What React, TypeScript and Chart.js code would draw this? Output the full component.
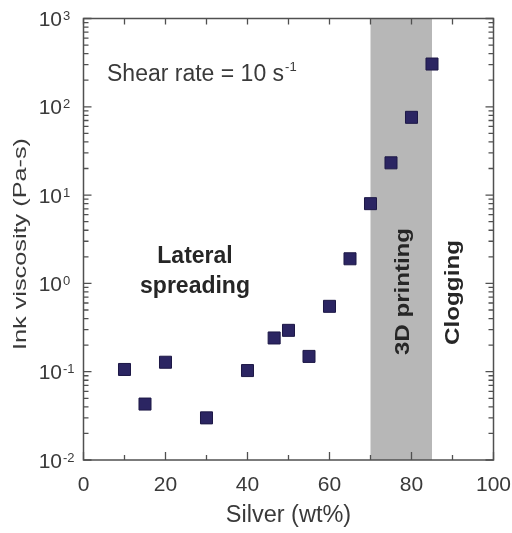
import React, { useEffect, useRef } from "react";
import { Chart, registerables } from "chart.js";

Chart.register(...registerables);

// ---- data ----
const silverWt = [10, 15, 20, 30, 40, 46.5, 50, 55, 60, 65, 70, 75, 80, 85];
const viscosity = [0.106, 0.043, 0.128, 0.03, 0.103, 0.241, 0.294, 0.149, 0.55, 1.9, 8.0, 23.2, 76, 305];

const xMajorTicks = [0, 20, 40, 60, 80, 100];
const xMinorTicks = [10, 30, 50, 70, 90];
const xTickLabels = ["0", "20", "40", "60", "80", "100"];

const yDecadeTicks = [0.01, 0.1, 1, 10, 100, 1000];
const yDecadeExponents = ["-2", "-1", "0", "1", "2", "3"];
const yMinorMultipliers = [2, 3, 4, 5, 6, 7, 8, 9];

const printingBand = [70, 85];

const xTitle = "Silver (wt%)";
const yTitle = "Ink viscosity (Pa-s)";
const shearText = "Shear rate = 10 s";
const shearExp = "-1";
const lateralLines = ["Lateral", "spreading"];
const printingLabel = "3D printing";
const cloggingLabel = "Clogging";

const FONT = 'Arial, "Liberation Sans", sans-serif';
const AXIS_COLOR = "#505050";
const TEXT_COLOR = "#3a3a3a";
const BOLD_COLOR = "#262626";

function drawVertical(
  ctx: CanvasRenderingContext2D,
  text: string,
  baselineX: number,
  centerY: number,
  length: number,
  font: string,
  color: string
) {
  ctx.save();
  ctx.font = font;
  const w = ctx.measureText(text).width;
  ctx.translate(baselineX, centerY);
  ctx.rotate(-Math.PI / 2);
  ctx.scale(length / w, 1);
  ctx.textAlign = "center";
  ctx.textBaseline = "alphabetic";
  ctx.fillStyle = color;
  ctx.fillText(text, 0, 0);
  ctx.restore();
}

const decorPlugin = {
  id: "decor",
  beforeDatasetsDraw(chart: any) {
    const { ctx, chartArea, scales } = chart;
    const x = scales.x;
    const x0 = x.getPixelForValue(printingBand[0]);
    const x1 = x.getPixelForValue(printingBand[1]);
    ctx.save();
    ctx.fillStyle = "#b7b7b7";
    ctx.fillRect(x0, chartArea.top, x1 - x0, chartArea.bottom - chartArea.top);
    ctx.restore();
  },
  afterDatasetsDraw(chart: any) {
    const { ctx, chartArea, scales } = chart;
    const { left, right, top, bottom } = chartArea;
    const x = scales.x;
    const y = scales.y;
    ctx.save();
    // frame
    ctx.strokeStyle = AXIS_COLOR;
    ctx.lineWidth = 1.5;
    ctx.strokeRect(left, top, right - left, bottom - top);

    ctx.lineWidth = 1.3;
    ctx.beginPath();
    // x ticks
    xMajorTicks.forEach((v) => {
      const px = x.getPixelForValue(v);
      ctx.moveTo(px, bottom);
      ctx.lineTo(px, bottom - 8);
      ctx.moveTo(px, top);
      ctx.lineTo(px, top + 6);
    });
    xMinorTicks.forEach((v) => {
      const px = x.getPixelForValue(v);
      ctx.moveTo(px, bottom);
      ctx.lineTo(px, bottom - 5);
      ctx.moveTo(px, top);
      ctx.lineTo(px, top + 6);
    });
    // y ticks
    yDecadeTicks.forEach((v, i) => {
      const py = y.getPixelForValue(v);
      ctx.moveTo(left, py);
      ctx.lineTo(left + 8, py);
      ctx.moveTo(right, py);
      ctx.lineTo(right - 8, py);
      if (i < yDecadeTicks.length - 1) {
        yMinorMultipliers.forEach((m) => {
          const pm = y.getPixelForValue(v * m);
          ctx.moveTo(left, pm);
          ctx.lineTo(left + 5, pm);
          ctx.moveTo(right, pm);
          ctx.lineTo(right - 5, pm);
        });
      }
    });
    ctx.stroke();

    // x tick labels
    ctx.fillStyle = TEXT_COLOR;
    ctx.font = `21px ${FONT}`;
    ctx.textAlign = "center";
    ctx.textBaseline = "alphabetic";
    xMajorTicks.forEach((v, i) => {
      ctx.fillText(xTickLabels[i], x.getPixelForValue(v), bottom + 31);
    });

    // y tick labels: 10 with superscript exponent
    yDecadeTicks.forEach((v, i) => {
      const py = y.getPixelForValue(v);
      ctx.font = `21px ${FONT}`;
      ctx.textAlign = "right";
      ctx.fillText("10", 62, py + 7.5);
      ctx.font = `13px ${FONT}`;
      ctx.textAlign = "left";
      ctx.fillText(yDecadeExponents[i], 63, py + 1.5);
    });

    // axis titles
    ctx.font = `23.5px ${FONT}`;
    ctx.textAlign = "center";
    ctx.fillText(xTitle, (left + right) / 2, 522);
    drawVertical(ctx, yTitle, 26, 244, 212, `19px ${FONT}`, TEXT_COLOR);

    // shear rate annotation
    ctx.font = `23px ${FONT}`;
    ctx.textAlign = "left";
    ctx.fillStyle = TEXT_COLOR;
    ctx.fillText(shearText, 107, 81);
    const sw = ctx.measureText(shearText).width;
    ctx.font = `13px ${FONT}`;
    ctx.fillText(shearExp, 107 + sw + 1, 71);

    // lateral spreading
    ctx.font = `bold 23px ${FONT}`;
    ctx.textAlign = "center";
    ctx.fillStyle = BOLD_COLOR;
    ctx.fillText(lateralLines[0], 195, 263);
    ctx.fillText(lateralLines[1], 195, 293);

    // vertical region labels
    drawVertical(ctx, printingLabel, 409, 291.5, 127, `bold 21px ${FONT}`, BOLD_COLOR);
    drawVertical(ctx, cloggingLabel, 459, 292.5, 105, `bold 21px ${FONT}`, BOLD_COLOR);

    ctx.restore();
  },
};

export default function App() {
  const canvasRef = useRef<HTMLCanvasElement | null>(null);

  useEffect(() => {
    const canvas = canvasRef.current;
    if (!canvas) return;
    const chart = new Chart(canvas, {
      type: "scatter",
      data: {
        datasets: [
          {
            data: silverWt.map((xv, i) => ({ x: xv, y: viscosity[i] })),
            pointStyle: "rect",
            pointRadius: 8.5,
            pointHoverRadius: 8.5,
            backgroundColor: "#2b2562",
            borderColor: "#1d1846",
            borderWidth: 1,
          },
        ],
      },
      options: {
        responsive: false,
        animation: false,
        devicePixelRatio: 1,
        layout: { padding: { left: 0, right: 18.5, top: 18.5, bottom: 0 } },
        plugins: { legend: { display: false }, tooltip: { enabled: false } },
        scales: {
          x: {
            type: "linear",
            min: 0,
            max: 100,
            grid: { display: false },
            border: { display: false },
            ticks: { display: false },
            afterFit: (s: any) => {
              s.height = 73;
            },
          },
          y: {
            type: "logarithmic",
            min: 0.01,
            max: 1000,
            grid: { display: false },
            border: { display: false },
            ticks: { display: false },
            afterFit: (s: any) => {
              s.width = 83.5;
            },
          },
        },
      },
      plugins: [decorPlugin],
    });
    return () => chart.destroy();
  }, []);

  return (
    <div style={{ position: "absolute", left: 0, top: 0, width: 512, height: 533, background: "#ffffff" }}>
      <canvas ref={canvasRef} width={512} height={533} />
    </div>
  );
}
